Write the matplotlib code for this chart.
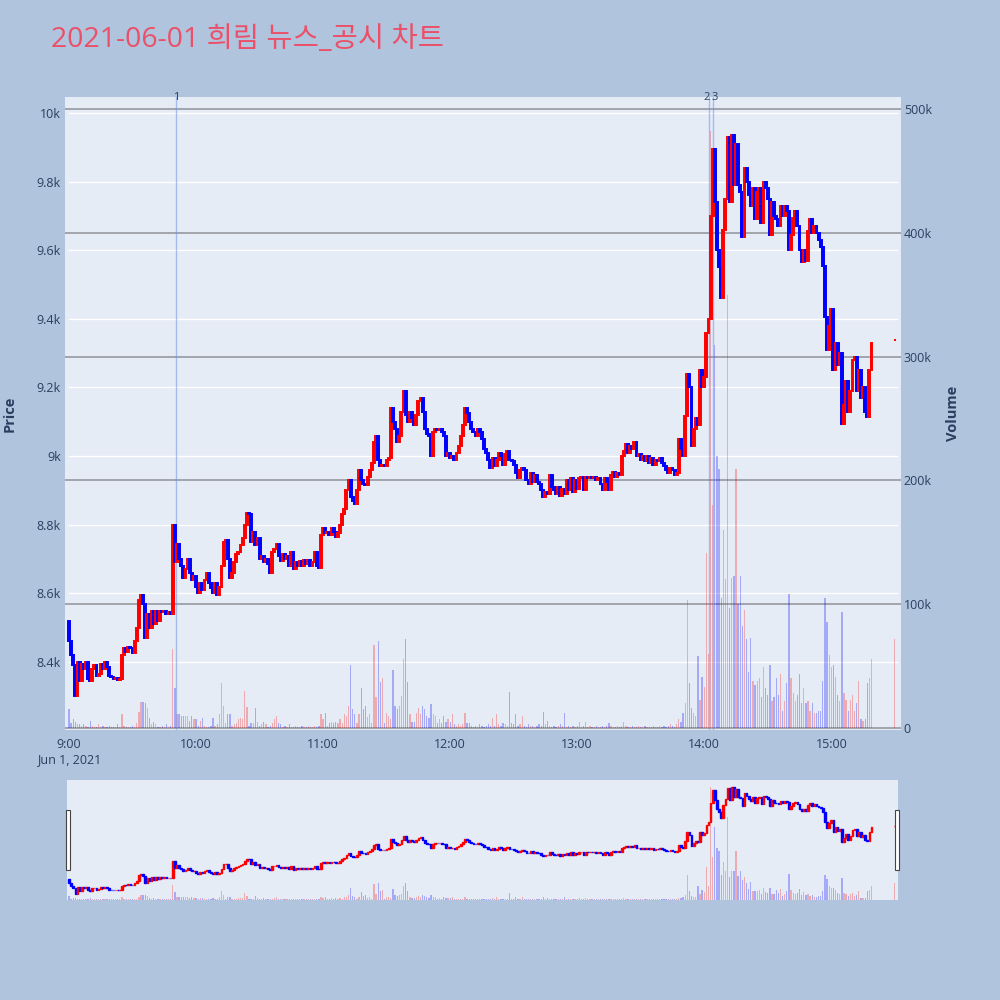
import numpy as np
import matplotlib
matplotlib.use("Agg")
import matplotlib.pyplot as plt
import matplotlib.transforms as mtransforms
from matplotlib.patches import Rectangle

plt.rcParams['font.family'] = ['Open Sans', 'Noto Sans CJK KR', 'DejaVu Sans']

TITLE = "2021-06-01 희림 뉴스_공시 차트"

# ---- data (1-minute candles from 9:00, minute index 0 = 9:00) ----
first_open = 8520
closes = [
    8460, 8420, 8390, 8300, 8400, 8345, 8395, 8380, 8400, 8350,
    8345, 8380, 8390, 8360, 8365, 8395, 8380, 8400, 8385, 8360,
    8355, 8350, 8352, 8348, 8350, 8420, 8440, 8430, 8445, 8440,
    8425, 8460, 8500, 8580, 8596, 8570, 8470, 8540, 8500, 8550,
    8510, 8550, 8520, 8550, 8545, 8550, 8540, 8545, 8540, 8800,
    8690, 8745, 8700, 8680, 8645, 8670, 8700, 8660, 8640, 8650,
    8620, 8600, 8630, 8610, 8640, 8660, 8630, 8615, 8600, 8630,
    8595, 8620, 8680, 8750, 8756, 8700, 8645, 8660, 8690, 8715,
    8720, 8740, 8760, 8800, 8835, 8830, 8750, 8780, 8740, 8760,
    8700, 8710, 8690, 8700, 8685, 8660, 8720, 8730, 8745, 8710,
    8695, 8715, 8700, 8710, 8680, 8720, 8670, 8690, 8680, 8695,
    8680, 8697, 8685, 8697, 8680, 8690, 8720, 8680, 8675, 8770,
    8790, 8775, 8780, 8770, 8790, 8780, 8765, 8775, 8800, 8830,
    8845, 8900, 8930, 8880, 8870, 8860, 8900, 8960, 8930, 8920,
    8915, 8940, 8960, 8980, 9040, 9060, 8990, 8970, 8975, 8970,
    8990, 8995, 9140, 9100, 9080, 9040, 9060, 9130, 9190, 9120,
    9100, 9130, 9110, 9090, 9120, 9160, 9170, 9130, 9080, 9065,
    9060, 9000, 9070, 9080, 9075, 9080, 9070, 9060, 9000, 9010,
    8995, 9000, 8990, 9010, 9030, 9060, 9090, 9140, 9125, 9100,
    9080, 9070, 9060, 9080, 9070, 9050, 9020, 9010, 8990, 8965,
    8995, 8970, 8990, 9010, 9000, 8975, 9005, 9015, 8990, 8985,
    8975, 8950, 8935, 8960, 8965, 8960, 8930, 8920, 8950, 8925,
    8945, 8925, 8920, 8900, 8880, 8895, 8890, 8945, 8910, 8900,
    8890, 8910, 8885, 8905, 8890, 8930, 8900, 8935, 8895, 8930,
    8905, 8935, 8940, 8900, 8940, 8935, 8940, 8935, 8940, 8930,
    8935, 8920, 8900, 8935, 8925, 8900, 8945, 8955, 8940, 8950,
    8945, 9000, 9015, 9035, 9010, 9030, 9020, 9040, 9000, 9005,
    8990, 9000, 8985, 9000, 8980, 8995, 8975, 8990, 8985, 8995,
    8980, 8970, 8960, 8950, 8965, 8960, 8945, 8950, 9050, 9020,
    9000, 9116, 9240, 9200, 9030, 9080, 9110, 9090, 9250, 9200,
    9230, 9358, 9400, 9700, 9895, 9740, 9600, 9550, 9460, 9660,
    9750, 9930, 9740, 9935, 9790, 9910, 9790, 9770, 9640, 9840,
    9800, 9760, 9730, 9780, 9690, 9770, 9780, 9680, 9800, 9780,
    9750, 9645, 9740, 9700, 9690, 9670, 9730, 9700, 9730, 9715,
    9600, 9645, 9695, 9715, 9670, 9600, 9565, 9600, 9570, 9655,
    9690, 9650, 9670, 9650, 9630, 9610, 9555, 9405, 9310, 9380,
    9430, 9250, 9330, 9265, 9300, 9095, 9150, 9220, 9130, 9190,
    9280, 9290, 9190, 9250, 9170, 9200, 9130, 9115, 9250, 9330,
]
volume_k = [
    15, 4, 7, 5, 3, 3, 2, 3, 2, 1,
    6, 2, 1, 1, 3, 1, 2, 1, 1, 2,
    1, 1, 1, 3, 1, 11, 2, 1, 1, 1,
    2, 1, 4, 13, 21, 21, 20, 16, 8, 3,
    5, 3, 1, 1, 2, 1, 3, 1, 2, 64,
    32, 11, 11, 10, 10, 10, 10, 6, 10, 7,
    7, 2, 6, 8, 2, 1, 1, 2, 8, 2,
    3, 11, 36, 18, 4, 11, 11, 2, 3, 4,
    7, 8, 7, 30, 17, 2, 4, 4, 16, 5,
    2, 3, 5, 3, 1, 2, 4, 7, 10, 4,
    3, 1, 2, 1, 3, 1, 1, 2, 1, 1,
    2, 1, 1, 2, 1, 1, 2, 1, 2, 11,
    7, 12, 2, 4, 5, 4, 5, 4, 7, 4,
    11, 10, 18, 51, 15, 11, 4, 11, 32, 15,
    18, 9, 11, 4, 67, 25, 70, 37, 40, 4,
    12, 10, 7, 47, 18, 15, 18, 26, 56, 72,
    37, 11, 5, 5, 12, 16, 11, 18, 15, 10,
    8, 19, 11, 10, 4, 7, 4, 10, 5, 7,
    5, 11, 3, 2, 3, 2, 3, 12, 4, 4,
    2, 1, 2, 1, 3, 2, 1, 2, 3, 2,
    8, 2, 11, 3, 2, 4, 3, 2, 29, 4,
    3, 11, 2, 3, 10, 2, 1, 3, 2, 2,
    1, 2, 3, 2, 13, 3, 6, 2, 1, 2,
    1, 2, 3, 2, 12, 1, 2, 1, 2, 1,
    2, 5, 1, 2, 5, 1, 2, 1, 1, 2,
    1, 1, 2, 1, 2, 4, 2, 1, 1, 2,
    1, 2, 5, 2, 1, 1, 2, 1, 1, 2,
    1, 1, 2, 1, 1, 1, 2, 1, 1, 2,
    1, 2, 1, 2, 3, 2, 1, 3, 7, 5,
    12, 20, 103, 36, 16, 12, 10, 58, 23, 41,
    33, 141, 60, 482, 180, 309, 220, 209, 105, 160,
    120, 350, 97, 121, 123, 209, 100, 123, 82, 95,
    72, 45, 73, 38, 35, 38, 40, 25, 49, 32,
    27, 51, 22, 25, 40, 27, 44, 14, 22, 36,
    108, 40, 28, 22, 27, 44, 20, 32, 20, 22,
    14, 20, 12, 12, 14, 14, 38, 105, 86, 59,
    49, 51, 41, 27, 22, 94, 28, 23, 14, 23,
    27, 14, 20, 38, 7, 6, 7, 36, 40, 56,
]
auction_minute = 390          # 15:30 closing auction
auction_price = 9338
auction_volume_k = 72

event_minutes = [50.5, 302.1, 304.0]
event_labels = ["1", "2", "3"]
event_label_align = ["center", "right", "left"]

xtick_minutes = [0, 60, 120, 180, 240, 300, 360]
xtick_labels = ["9:00\nJun 1, 2021", "10:00", "11:00", "12:00", "13:00", "14:00", "15:00"]
price_ticks = [8400, 8600, 8800, 9000, 9200, 9400, 9600, 9800, 10000]
price_tick_labels = ["8.4k", "8.6k", "8.8k", "9k", "9.2k", "9.4k", "9.6k", "9.8k", "10k"]
volume_ticks_k = [0, 100, 200, 300, 400, 500]
volume_tick_labels = ["0", "100k", "200k", "300k", "400k", "500k"]

# ---- derived series ----
minutes = np.r_[np.arange(len(closes)), auction_minute].astype(float)
c = np.r_[closes, auction_price].astype(float)
o = np.r_[first_open, closes[:-1], auction_price].astype(float)
vol = np.r_[volume_k, auction_volume_k].astype(float) * 1000
up = c >= o
candle_colors = np.where(up, "#FF0000", "#0000FF")

FONT_COLOR = "#2a3f5f"
PAPER = "#B0C4DE"
PLOT_BG = "#E5ECF6"

PRICE_LIM = (8201.8, 10046.6)
VOL_LIM = (-1616, 509700)
px_per_min = 2.1175
x0_px = 69.0


def xlim_for(left_px, right_px):
    return ((left_px - x0_px) / px_per_min, (right_px - x0_px) / px_per_min)


def draw_candles(ax, lw, width):
    bottom = np.minimum(o, c)
    height = np.abs(c - o)
    ax.bar(minutes, height, bottom=bottom, width=width, color=candle_colors,
           edgecolor=candle_colors, linewidth=lw, zorder=3)


def draw_volume(ax, width):
    cols = np.where(up, "#FF0000", "#0000FF")
    ax.bar(minutes, vol, width=width, color=cols, alpha=0.28, linewidth=0, zorder=2)


fig = plt.figure(figsize=(10, 10), dpi=100, facecolor=PAPER)

# ---- main plot ----
L, R, T, B = 65, 901, 97, 730
ax_v = fig.add_axes([L / 1000, 1 - B / 1000, (R - L) / 1000, (B - T) / 1000])
ax_v.set_facecolor(PLOT_BG)
ax_p = ax_v.twinx()
ax_p.patch.set_visible(False)

ax_v.set_xlim(*xlim_for(L, R))
ax_v.set_ylim(*VOL_LIM)
ax_p.set_ylim(*PRICE_LIM)

# price gridlines (white) drawn beneath everything
blend = mtransforms.blended_transform_factory(ax_v.transAxes, ax_p.transData)
for p in price_ticks:
    ax_v.plot([0.005, 0.995], [p, p], transform=blend, color="white", lw=1.0, zorder=0.6)

# volume gridlines (gray)
ax_v.set_yticks([t * 1000 for t in volume_ticks_k], volume_tick_labels)
ax_v.set_axisbelow(True)
ax_v.grid(axis="y", color="#A2A5AB", lw=1.4)
ax_v.grid(axis="x", visible=False)

draw_volume(ax_v, 0.6)
draw_candles(ax_p, 1.4, 0.9)

for m, lab, ha in zip(event_minutes, event_labels, event_label_align):
    ax_p.axvline(m, color="#6F8FE8", alpha=0.55, lw=1.0, zorder=1)
    dx = {"center": 0, "right": 0.6, "left": -0.6}[ha]
    ax_p.text(m + dx, 1.0, lab, transform=ax_p.get_xaxis_transform(), ha=ha, va="center",
              fontsize=8, color=FONT_COLOR, zorder=5, clip_on=False)

ax_v.yaxis.tick_right()
ax_p.yaxis.tick_left()
ax_p.set_yticks(price_ticks, price_tick_labels)
ax_v.set_xticks(xtick_minutes, xtick_labels)

for ax in (ax_v, ax_p):
    for s in ax.spines.values():
        s.set_visible(False)
ax_v.tick_params(axis="x", length=0, pad=6, labelsize=9, colors=FONT_COLOR)
ax_v.tick_params(axis="y", length=0, pad=2, labelsize=9, colors=FONT_COLOR)
ax_p.tick_params(axis="y", length=0, pad=3, labelsize=9, colors=FONT_COLOR)

fig.text(0.010, 1 - 413.5 / 1000, "Price", rotation=90, ha="center", va="center",
         fontsize=10.5, fontweight="bold", color=FONT_COLOR)
fig.text(0.953, 1 - 413.5 / 1000, "Volume", rotation=90, ha="center", va="center",
         fontsize=10.5, fontweight="bold", color=FONT_COLOR)

fig.text(0.051, 1 - 40 / 1000, TITLE, ha="left", va="center", fontsize=20.5, color="#EB5068")

# ---- range slider ----
SL, SR, ST, SB = 67, 898, 780, 900
ax_s = fig.add_axes([SL / 1000, 1 - SB / 1000, (SR - SL) / 1000, (SB - ST) / 1000])
ax_s.set_facecolor(PLOT_BG)
ax_s2 = ax_s.twinx()
ax_s2.patch.set_visible(False)
ax_s.set_xlim(*xlim_for(SL, SR))
ax_s.set_ylim(*VOL_LIM)
ax_s2.set_ylim(*PRICE_LIM)
draw_volume(ax_s, 0.6)
draw_candles(ax_s2, 1.0, 0.8)
for ax in (ax_s, ax_s2):
    ax.set_xticks([])
    ax.set_yticks([])
    for s in ax.spines.values():
        s.set_visible(False)

for hx in (66.4, 895.3):
    fig.patches.append(Rectangle((hx / 1000, 1 - 870 / 1000), 4 / 1000, 60 / 1000,
                                 transform=fig.transFigure, facecolor="white",
                                 edgecolor="#444444", lw=0.8, zorder=10))

fig.savefig("out.png", dpi=100, facecolor=PAPER)
